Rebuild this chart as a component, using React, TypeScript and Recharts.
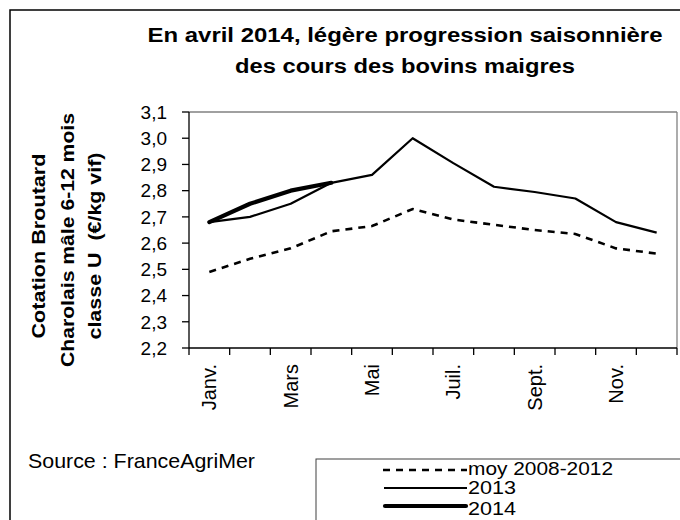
import React from 'react';
import { LineChart, Line, XAxis, YAxis, ReferenceLine } from 'recharts';

const months = ['Janv.', 'Févr.', 'Mars', 'Avr.', 'Mai', 'Juin', 'Juil.', 'Août', 'Sept.', 'Oct.', 'Nov.', 'Déc.'];
const moy = [2.49, 2.54, 2.58, 2.645, 2.665, 2.73, 2.69, 2.67, 2.65, 2.635, 2.58, 2.56];
const y2013 = [2.68, 2.7, 2.75, 2.83, 2.86, 3.0, 2.905, 2.815, 2.795, 2.77, 2.68, 2.64];
const y2014 = [2.68, 2.75, 2.8, 2.83];
const yTicks = [2.2, 2.3, 2.4, 2.5, 2.6, 2.7, 2.8, 2.9, 3.0, 3.1];
const titleLines = ['En avril 2014, légère progression saisonnière', 'des cours des bovins maigres'];
const yLabelLines = ['Cotation Broutard', 'Charolais mâle 6-12 mois', 'classe U  (€/kg vif)'];
const sourceText = 'Source : FranceAgriMer';
const legendNames = ['moy 2008-2012', '2013', '2014'];

const FONT = "Arial, 'Liberation Sans', Helvetica, sans-serif";

const data = months.map((m, i) => ({
  x: i + 0.5,
  month: m,
  moy: moy[i],
  y2013: y2013[i],
  y2014: i < y2014.length ? y2014[i] : null,
}));

const xTicks: number[] = [];
for (let i = 0; i <= months.length; i++) {
  xTicks.push(i);
  if (i < months.length && i % 2 === 0) xTicks.push(i + 0.5);
}

const XTick = (props: any) => {
  const { x, y, payload } = props;
  const v = payload.value;
  if (Number.isInteger(v)) {
    return <line x1={x} y1={y} x2={x} y2={y + 7} stroke="#000" strokeWidth={1.3} />;
  }
  const idx = Math.floor(v);
  return (
    <text
      x={0}
      y={0}
      transform={`translate(${x},${y + 16}) rotate(-90)`}
      textAnchor="end"
      dy="0.35em"
      fontSize={20}
      fontFamily={FONT}
      fill="#000"
    >
      {months[idx]}
    </text>
  );
};

const fmt = (v: number) => v.toFixed(1).replace('.', ',');

export default function App() {
  return (
    <div style={{ position: 'relative', width: 680, height: 520, overflow: 'hidden', background: '#fff' }}>
      <style>{`body{margin:0}`}</style>
      <LineChart
        width={680}
        height={520}
        data={data}
        margin={{ top: 112, right: 3, left: 0, bottom: 112 }}
      >
        <ReferenceLine y={3.1} stroke="#808080" strokeWidth={1.3} />
        <ReferenceLine x={12} stroke="#808080" strokeWidth={1.3} />
        <XAxis
          dataKey="x"
          type="number"
          domain={[0, 12]}
          ticks={xTicks}
          interval={0}
          height={60}
          tickSize={0}
          tickMargin={0}
          tickLine={false}
          tick={<XTick />}
          axisLine={{ stroke: '#000', strokeWidth: 1.3 }}
        />
        <YAxis
          type="number"
          domain={[2.2, 3.1]}
          ticks={yTicks}
          interval={0}
          width={189}
          tickSize={7}
          tickMargin={15}
          tickFormatter={fmt}
          tick={{ fontSize: 19, fontFamily: FONT, fill: '#000' }}
          tickLine={{ stroke: '#000', strokeWidth: 1.3 }}
          axisLine={{ stroke: '#000', strokeWidth: 1.3 }}
        />
        <Line
          dataKey="moy"
          type="linear"
          stroke="#000"
          strokeWidth={2.6}
          strokeDasharray="7 6"
          dot={false}
          isAnimationActive={false}
        />
        <Line
          dataKey="y2013"
          type="linear"
          stroke="#000"
          strokeWidth={2.2}
          strokeLinejoin="round"
          dot={false}
          isAnimationActive={false}
        />
        <Line
          dataKey="y2014"
          type="linear"
          stroke="#000"
          strokeWidth={4.2}
          strokeLinejoin="round"
          strokeLinecap="round"
          dot={false}
          connectNulls={false}
          isAnimationActive={false}
        />
      </LineChart>
      <svg
        width={680}
        height={520}
        style={{ position: 'absolute', left: 0, top: 0, pointerEvents: 'none' }}
        fontFamily={FONT}
      >
        <rect x={10} y={10} width={700} height={600} fill="none" stroke="#000" strokeWidth={1.5} />
        <text x={405} y={42} textAnchor="middle" fontSize={20} fontWeight="bold" textLength={515} lengthAdjust="spacingAndGlyphs">
          {titleLines[0]}
        </text>
        <text x={405} y={73} textAnchor="middle" fontSize={20} fontWeight="bold" textLength={340} lengthAdjust="spacingAndGlyphs">
          {titleLines[1]}
        </text>
        <text transform="translate(45,246) rotate(-90)" textAnchor="middle" fontSize={19} fontWeight="bold" textLength={185} lengthAdjust="spacingAndGlyphs">
          {yLabelLines[0]}
        </text>
        <text transform="translate(74,240) rotate(-90)" textAnchor="middle" fontSize={19} fontWeight="bold" textLength={254} lengthAdjust="spacingAndGlyphs">
          {yLabelLines[1]}
        </text>
        <text transform="translate(101,246) rotate(-90)" textAnchor="middle" fontSize={19} fontWeight="bold" textLength={187} lengthAdjust="spacingAndGlyphs" style={{ whiteSpace: 'pre' }}>
          {yLabelLines[2]}
        </text>
        <text x={28} y={468} fontSize={21} textLength={227} lengthAdjust="spacingAndGlyphs">
          {sourceText}
        </text>
        <rect x={316} y={459} width={400} height={100} fill="#fff" stroke="#404040" strokeWidth={1} />
        <line x1={383} y1={470} x2={467} y2={470} stroke="#000" strokeWidth={2.6} strokeDasharray="7 6" />
        <line x1={384} y1={488} x2={467} y2={488} stroke="#000" strokeWidth={2.2} />
        <line x1={385} y1={506} x2={466} y2={506} stroke="#000" strokeWidth={4.2} strokeLinecap="round" />
        <text x={468} y={475} fontSize={19} textLength={145} lengthAdjust="spacingAndGlyphs">{legendNames[0]}</text>
        <text x={468} y={494} fontSize={19} textLength={48} lengthAdjust="spacingAndGlyphs">{legendNames[1]}</text>
        <text x={468} y={515} fontSize={19} textLength={48} lengthAdjust="spacingAndGlyphs">{legendNames[2]}</text>
      </svg>
    </div>
  );
}
